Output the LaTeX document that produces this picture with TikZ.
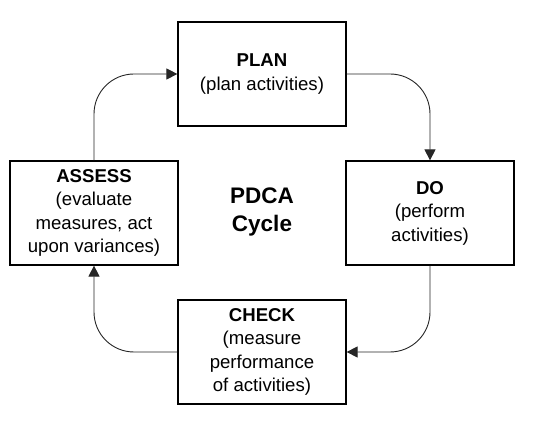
\documentclass[tikz,border=0pt]{standalone}
\usepackage{fontspec}
\setmainfont{Liberation Sans}
\usetikzlibrary{arrows.meta,positioning}

\begin{document}
\begin{tikzpicture}[x=1pt,y=1pt,>={Triangle[length=11pt,width=11pt]},
  stage/.style={draw,line width=1.2pt,minimum width=168pt,minimum height=104pt,
                inner sep=0pt,align=center,font=\fontsize{18.6}{23.5}\selectfont},
  flow/.style={->,line width=0.9pt,black!85,rounded corners=40pt}]
  \useasboundingbox (0,0) rectangle (541,422);

  % the four stages
  \node[stage] (plan)   at (262,348) {\textbf{PLAN}\\(plan activities)};
  \node[stage] (do)     at (430,209) {\textbf{DO}\\(perform\\activities)};
  \node[stage] (check)  at (262,70)  {\textbf{CHECK}\\(measure\\performance\\of activities)};
  \node[stage] (assess) at (94,209)  {\textbf{ASSESS}\\(evaluate\\measures, act\\upon variances)};

  \node[align=center,font=\fontsize{22.5}{28}\selectfont\bfseries] (cycle) at (262,210) {PDCA\\Cycle};

  % connectors
  \draw[flow] (plan.east)   -| (do.north);
  \draw[flow] (do.south)    |- (check.east);
  \draw[flow] (check.west)  -| (assess.south);
  \draw[flow] (assess.north) |- (plan.west);
\end{tikzpicture}
\end{document}
